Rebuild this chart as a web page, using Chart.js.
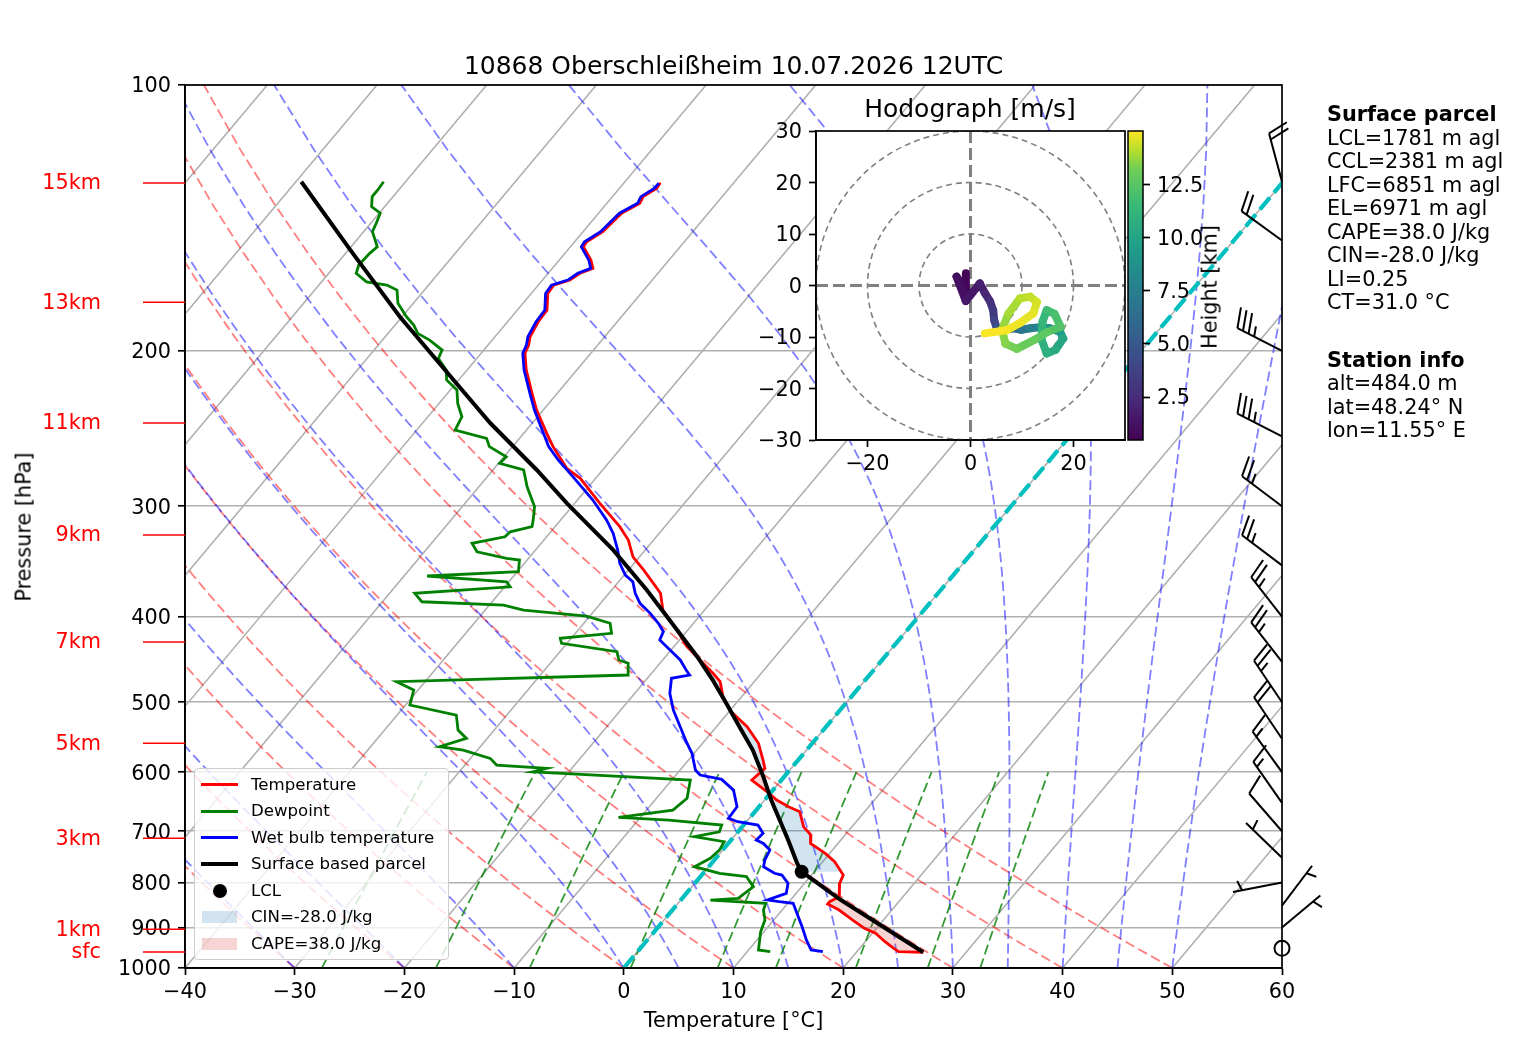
<!DOCTYPE html>
<html>
<head>
<meta charset="utf-8">
<title>Skew-T 10868 Oberschleißheim</title>
<script src="https://cdn.jsdelivr.net/npm/chart.js@4.4.1/dist/chart.umd.min.js"></script>
<style>
  html, body { margin: 0; padding: 0; background: #fff; }
  #page { position: relative; width: 1517px; height: 1054px; overflow: hidden; font-family: 'DejaVu Sans', sans-serif; color: #000; }
  #page canvas { position: absolute; }
  .lbl { position: absolute; white-space: nowrap; line-height: 1; transform: translate(-50%, -50%); }
  .rot { transform: translate(-50%, -50%) rotate(-90deg); }
  .info { position: absolute; left: 1327px; font-size: 20.8px; line-height: 1; white-space: nowrap; }
  #legend { position: absolute; left: 194px; top: 768px; width: 255px; height: 192px; box-sizing: border-box;
            background: rgba(255,255,255,0.8); border: 1px solid #cccccc; border-radius: 4px; }
  .lg { position: absolute; left: 56px; font-size: 16.6px; line-height: 1; white-space: nowrap; transform: translateY(-50%); }
  .lh { position: absolute; }
</style>
</head>
<body>
<div id="page">
  <canvas id="skew" width="1517" height="1054" style="left:0;top:0"></canvas>
  <canvas id="hodo" width="390" height="405" style="left:740px;top:85px"></canvas>
  <canvas id="cbar" width="140" height="370" style="left:1100px;top:100px"></canvas>

  <div class="lbl" style="left:733.5px;top:65px;font-size:25px">10868 Oberschleißheim 10.07.2026 12UTC</div>
  <div class="lbl rot" style="left:24px;top:527px;font-size:20.8px">Pressure [hPa]</div>
  <div class="lbl" style="left:733.5px;top:1020px;font-size:20.8px">Temperature [°C]</div>
  <div class="lbl" style="left:970px;top:108px;font-size:25px">Hodograph [m/s]</div>
  <div class="lbl rot" style="left:1210px;top:287px;font-size:20.8px">Height [km]</div>

  <div id="legend"></div>
  <div id="info"></div>
</div>

<script>
// ---------------- values ----------------
const pressureTicks = [100, 200, 300, 400, 500, 600, 700, 800, 900, 1000];
const tempTicks = [-40, -30, -20, -10, 0, 10, 20, 30, 40, 50, 60];

// temperature profile
const tempP = [129.0,130.9,133.8,136.1,139.7,146.6,150.5,152.5,157.9,161.3,163.4,166.3,168.5,172.2,179.8,185.4,
  192.8,197.0,201.3,210.3,223.4,233.4,248.0,256.8,271.7,278.9,297.7,316.4,327.6,342.2,354.3,366.8,376.4,393.2,
  414.2,432.6,447.9,463.7,474.0,492.9,512.6,533.1,556.6,581.5,594.2,612.6,631.6,645.4,656.8,665.4,692.0,707.1,
  722.6,741.6,758.0,784.7,801.9,830.4,841.3,846.4,859.7,882.5,901.7,913.5,933.7,949.9,958.4,959.9];
const tempT = [-56.7,-56.6,-57.2,-57.0,-57.9,-58.2,-58.9,-58.8,-57.1,-56.3,-57.1,-57.5,-58.6,-58.5,-57.3,-57.2,
  -56.8,-56.3,-56.0,-54.6,-52.3,-50.6,-47.9,-46.3,-43.4,-41.4,-37.7,-34.1,-32.3,-30.6,-28.6,-26.7,-25.3,-23.8,
  -21.0,-18.8,-16.6,-14.4,-13.1,-11.7,-9.8,-7.2,-4.9,-3.2,-2.4,-2.7,-0.4,1.1,2.7,4.1,5.6,6.9,
  7.5,9.6,11.1,12.9,13.2,14.2,13.7,13.7,15.2,17.2,18.9,20.3,21.8,23.1,23.8,26.1];

// dewpoint profile
const dewP = [128.7,131.5,133.8,137.3,139.7,143.4,146.6,152.5,155.1,159.9,163.4,167.1,168.5,170.7,176.7,183.0,
  187.0,191.1,194.5,199.6,204.0,210.3,215.8,221.5,229.4,237.5,245.9,251.3,256.8,263.6,268.2,272.9,285.1,300.3,
  311.0,316.4,320.6,324.8,330.4,337.8,343.6,345.1,355.8,359.8,365.3,370.1,376.4,384.8,388.1,393.2,399.4,407.0,
  417.8,423.2,428.8,438.3,447.9,451.7,465.8,474.0,484.4,503.7,517.1,537.7,549.5,561.6,566.5,578.9,589.1,594.2,
  599.5,612.6,642.5,662.4,675.1,679.9,688.8,701.0,710.1,719.4,735.3,751.2,767.9,781.2,788.1,809.0,834.0,837.6,
  844.9,859.7,882.5,909.7,954.1,958.4];
const dewT = [-82.0,-81.9,-81.9,-81.2,-79.9,-79.5,-79.2,-77.6,-77.8,-77.9,-77.5,-75.9,-73.8,-72.5,-71.4,-69.6,
  -68.3,-67.3,-65.7,-63.8,-63.5,-61.9,-61.1,-59.4,-58.3,-56.9,-56.5,-53.0,-52.1,-49.8,-49.9,-47.2,-45.6,-43.4,
  -42.5,-42.1,-43.7,-43.8,-46.3,-45.2,-42.0,-40.7,-39.9,-47.9,-40.2,-39.5,-47.7,-46.4,-38.7,-36.5,-30.3,-27.6,
  -26.7,-31.0,-30.5,-24.8,-24.0,-22.9,-22.0,-42.6,-40.4,-39.6,-34.6,-33.3,-31.9,-33.7,-31.3,-28.2,-27.1,-22.3,
  -23.3,-8.3,-7.2,-7.6,-12.0,-7.2,-2.0,-1.7,-3.6,-0.5,-0.3,-0.5,-1.3,1.5,4.2,5.6,5.1,2.7,
  8.0,8.3,9.2,9.7,10.9,12.1];

// wet bulb profile
const wetP = [129.2,130.9,133.8,136.1,139.7,146.6,150.5,152.5,157.9,161.3,163.4,166.3,168.5,172.2,179.8,185.4,
  192.8,197.0,201.3,210.3,223.4,233.4,248.0,256.8,265.9,277.7,295.1,311.0,321.9,336.3,348.1,358.9,365.3,376.4,
  386.4,396.6,407.0,416.0,425.1,436.3,447.9,459.7,465.8,469.8,488.6,510.4,533.1,554.3,571.3,596.8,604.6,609.8,
  611.5,628.8,656.8,676.9,682.9,688.8,703.9,716.3,722.6,735.3,754.6,767.9,781.2,784.7,801.9,823.1,837.6,841.3,
  844.9,867.1,898.0,929.5,954.1,958.4];
const wetT = [-56.8,-56.8,-57.4,-57.2,-58.1,-58.4,-59.1,-59.0,-57.3,-56.5,-57.3,-57.7,-58.8,-58.7,-57.5,-57.4,
  -57.0,-56.5,-56.2,-54.8,-52.5,-50.8,-48.2,-46.7,-44.8,-42.2,-38.6,-35.8,-34.2,-32.5,-31.3,-29.9,-28.7,-27.6,
  -26.4,-24.7,-23.2,-22.1,-21.8,-20.1,-18.4,-17.1,-16.4,-17.8,-16.8,-15.2,-13.3,-11.6,-10.2,-8.6,-7.8,-6.0,
  -5.5,-3.6,-2.0,-1.9,-0.8,1.3,2.4,2.3,3.2,4.3,4.6,5.0,6.5,7.3,8.5,9.1,7.9,9.1,
  10.5,11.6,13.1,14.5,15.7,16.9];

// surface based parcel
const parcelP = [128.7,153.8,183.0,213.9,241.6,272.9,297.7,336.3,373.2,417.8,444.1,472.0,501.4,533.1,566.5,
  607.3,645.4,716.3,761.1,777.9,837.6,959.9];
const parcelT = [-89.5,-79.8,-70.2,-61.0,-53.8,-46.0,-40.7,-32.9,-26.8,-20.5,-17.1,-13.9,-10.9,-7.9,-4.9,
  -1.9,0.6,5.2,7.8,8.85,14.6,26.1];
const lclP = 777.9, lclT = 8.85;
const lfcP = 418;

// wind barbs (knots)
const windP   = [128.7, 150, 200, 250, 300, 350, 400, 450, 500, 550, 600, 650, 700, 750, 800, 850, 900, 950];
const windDir = [345, 306, 297, 297, 307, 307, 322, 322, 326, 326, 324, 325, 319, 314, 259, 37, 50, 0];
const windSpd = [20, 20, 35, 35, 25, 25, 25, 25, 25, 20, 15, 15, 10, 5, 5, 5, 5, 0];

// hodograph (m/s) and height (km)
const hodoU = [-0.9,-0.9,-2.7,-0.9,1.8,2.8,3.8,4.4,4.6,5.1,6.7,8.3,9.9,11.6,13.5,15.4,17.4,18.0,16.5,14.8,
  13.8,14.0,14.8,16.3,17.5,15.0,12.5,9.0,6.8,6.1,7.4,9.6,11.6,12.9,12.2,9.6,7.0,2.8];
const hodoV = [2.4,-0.9,1.7,-3.0,0.4,-1.5,-3.1,-4.8,-6.7,-8.3,-8.6,-8.3,-8.6,-8.3,-8.1,-8.3,-9.0,-10.3,-12.5,-13.2,
  -10.5,-7.0,-4.8,-5.5,-8.0,-9.0,-10.5,-12.3,-11.3,-8.6,-5.4,-2.5,-2.2,-3.2,-5.4,-7.3,-8.7,-9.3];
const hodoH = [0.5,0.8,1.0,1.3,1.6,2.0,2.5,3.0,3.6,4.3,5.0,5.8,6.5,7.2,8.0,8.8,9.4,9.9,10.3,10.7,
  11.0,11.3,11.6,11.9,12.2,12.5,12.8,13.1,13.4,13.6,13.8,14.0,14.2,14.4,14.6,14.8,14.9,15.0];
const hMin = 0.48, hMax = 15.0;
const hodoTicksX = [-20, 0, 20];
const hodoTicksY = [-30, -20, -10, 0, 10, 20, 30];
const hodoRings = [10, 20, 30];
const cbarTicks = [2.5, 5, 7.5, 10, 12.5];

// height labels on the left
const kmText = ['15km', '13km', '11km', '9km', '7km', '5km', '3km', '1km', 'sfc'];
const kmP = [129.1, 176.2, 241.4, 323.3, 427.4, 556.6, 713.0, 904.0, 959.1];

// background guide lines
const isothermT = [-110, -100, -90, -80, -70, -60, -50, -40, -30, -20, -10, 0, 10, 20, 30, 40, 50, 60];
const dryAdiabatT0 = [-40, -30, -20, -10, 0, 10, 20, 30, 40, 50];
const moistAdiabatT0 = [-40, -30, -20, -10, 0, 5, 10, 15, 20, 25, 30, 35, 40, 45, 50];
const mixingRatios = [0.0004, 0.001, 0.002, 0.004, 0.007, 0.01, 0.016, 0.024, 0.032];

const legendItems = [
  { label: 'Temperature', kind: 'line', color: '#ff0000' },
  { label: 'Dewpoint', kind: 'line', color: '#008000' },
  { label: 'Wet bulb temperature', kind: 'line', color: '#0000ff' },
  { label: 'Surface based parcel', kind: 'line', color: '#000000' },
  { label: 'LCL', kind: 'dot', color: '#000000' },
  { label: 'CIN=-28.0 J/kg', kind: 'patch', color: 'rgba(31,119,180,0.2)' },
  { label: 'CAPE=38.0 J/kg', kind: 'patch', color: 'rgba(214,39,40,0.2)' }
];
const infoLines = [
  { text: 'Surface parcel', bold: true, y: 114 },
  { text: 'LCL=1781 m agl', y: 138 },
  { text: 'CCL=2381 m agl', y: 161.5 },
  { text: 'LFC=6851 m agl', y: 185 },
  { text: 'EL=6971 m agl', y: 208.5 },
  { text: 'CAPE=38.0 J/kg', y: 232 },
  { text: 'CIN=-28.0 J/kg', y: 255.5 },
  { text: 'LI=0.25', y: 279 },
  { text: 'CT=31.0 °C', y: 302.5 },
  { text: 'Station info', bold: true, y: 360 },
  { text: 'alt=484.0 m', y: 383.5 },
  { text: 'lat=48.24° N', y: 407 },
  { text: 'lon=11.55° E', y: 430.5 }
];

// ---------------- helpers ----------------
Chart.defaults.font.family = "'DejaVu Sans', sans-serif";
Chart.defaults.color = '#000';

const FS = 20.8;
const SKEW = 67.5;      // degC shift per decade of pressure
const skew = (t, p) => t + SKEW * Math.log10(1000 / p);
const toPts = (P, T) => P.map((p, i) => ({ x: skew(T[i], p), y: p }));
const minus = v => (v < 0 ? '\u2212' + Math.abs(v) : String(v));

const Rd = 287.04749, Cpd = 1004.67, Lv = 2.50084e6, EPS = 0.62196;
const satVap = tc => 6.112 * Math.exp(17.67 * tc / (tc + 243.5));

const guideP = [];
for (let i = 0; i < 50; i++) guideP.push(1000 - i * 900 / 49);
const mixP = [];
for (let i = 0; i < 50; i++) mixP.push(1000 - i * 400 / 49);

function dryLine(t0) {
  return guideP.map(p => ({ x: skew((t0 + 273.15) * Math.pow(p / 1000, Rd / Cpd) - 273.15, p), y: p }));
}
function dTdp(p, tk) {
  const es = satVap(tk - 273.15);
  const rs = EPS * es / (p - es);
  return (Rd * tk + Lv * rs) / (p * (Cpd + Lv * Lv * rs * EPS / (Rd * tk * tk)));
}
function moistLine(t0) {
  let tk = t0 + 273.15, p = guideP[0];
  const pts = [{ x: skew(t0, p), y: p }];
  for (let i = 1; i < guideP.length; i++) {
    const n = 10, dp = (guideP[i] - p) / n;
    for (let k = 0; k < n; k++) {
      const k1 = dTdp(p, tk);
      const k2 = dTdp(p + dp / 2, tk + dp / 2 * k1);
      const k3 = dTdp(p + dp / 2, tk + dp / 2 * k2);
      const k4 = dTdp(p + dp, tk + dp * k3);
      tk += dp / 6 * (k1 + 2 * k2 + 2 * k3 + k4);
      p += dp;
    }
    pts.push({ x: skew(tk - 273.15, guideP[i]), y: guideP[i] });
  }
  return pts;
}
function mixingLine(w) {
  return mixP.map(p => {
    const l = Math.log(p * w / (EPS + w) / 6.112);
    return { x: skew(243.5 * l / (17.67 - l), p), y: p };
  });
}

function interpLogP(P, T, p) {
  if (p <= P[0]) return T[0];
  if (p >= P[P.length - 1]) return T[T.length - 1];
  for (let i = 1; i < P.length; i++) {
    if (p <= P[i]) {
      const f = Math.log(p / P[i - 1]) / Math.log(P[i] / P[i - 1]);
      return T[i - 1] + f * (T[i] - T[i - 1]);
    }
  }
}
// closed shape between parcel and environment, env side chosen by pick()
function shadeShape(pLow, pHigh, pick) {
  const levels = [...new Set([pLow, pHigh, ...tempP, ...parcelP])]
    .filter(p => p >= pLow && p <= pHigh).sort((a, b) => a - b);
  const side1 = levels.map(p => ({ x: skew(interpLogP(parcelP, parcelT, p), p), y: p }));
  const side2 = levels.map(p => {
    const te = interpLogP(tempP, tempT, p), tp = interpLogP(parcelP, parcelT, p);
    return { x: skew(pick(te, tp), p), y: p };
  }).reverse();
  return side1.concat(side2, [side1[0]]);
}

const viridisStops = [
  [68, 1, 84], [72, 40, 120], [62, 73, 137], [49, 104, 142], [38, 130, 142],
  [31, 158, 137], [53, 183, 121], [110, 206, 88], [181, 222, 43], [253, 231, 37]
];
const viridisPos = [0, 0.125, 0.25, 0.375, 0.5, 0.625, 0.75, 0.875, 0.9375, 1];
function viridis(t) {
  t = Math.max(0, Math.min(1, t));
  let i = 1;
  while (i < viridisPos.length - 1 && t > viridisPos[i]) i++;
  const f = (t - viridisPos[i - 1]) / (viridisPos[i] - viridisPos[i - 1]);
  const a = viridisStops[i - 1], b = viridisStops[i];
  return `rgb(${Math.round(a[0] + f * (b[0] - a[0]))},${Math.round(a[1] + f * (b[1] - a[1]))},${Math.round(a[2] + f * (b[2] - a[2]))})`;
}

function lineDs(data, color, width, dash, order) {
  return { data, showLine: true, borderColor: color, borderWidth: width, borderDash: dash || [],
           pointRadius: 0, fill: false, order };
}

// matplotlib style barb, staff pointing where the wind comes from
function drawBarb(ctx, x0, y0, dirDeg, spd) {
  const L = 50, h = 0.4 * L, w = 0.25 * L, sp = 0.125 * L;
  if (spd < 2.5) {
    ctx.beginPath();
    ctx.arc(x0, y0, 0.15 * L, 0, Math.PI * 2);
    ctx.stroke();
    return;
  }
  const r = dirDeg * Math.PI / 180;
  const sx = Math.sin(r), sy = -Math.cos(r);
  const px = Math.cos(r), py = Math.sin(r);
  const v = Math.round(spd / 5) * 5;
  const nFlag = Math.floor(v / 50), nBarb = Math.floor((v % 50) / 10), half = v % 10 >= 5;
  ctx.beginPath();
  ctx.moveTo(x0, y0);
  ctx.lineTo(x0 + sx * L, y0 + sy * L);
  ctx.stroke();
  let off = L;
  for (let i = 0; i < nFlag; i++) {
    const bx = x0 + sx * off, by = y0 + sy * off;
    ctx.beginPath();
    ctx.moveTo(bx, by);
    ctx.lineTo(bx + px * h - sx * w / 2, by + py * h - sy * w / 2);
    ctx.lineTo(bx - sx * w, by - sy * w);
    ctx.closePath();
    ctx.fill();
    off -= w + sp;
  }
  for (let i = 0; i < nBarb; i++) {
    const bx = x0 + sx * off, by = y0 + sy * off;
    ctx.beginPath();
    ctx.moveTo(bx, by);
    ctx.lineTo(bx + px * h + sx * w / 2, by + py * h + sy * w / 2);
    ctx.stroke();
    off -= sp;
  }
  if (half) {
    if (off === L) off -= 1.5 * sp;
    const bx = x0 + sx * off, by = y0 + sy * off;
    ctx.beginPath();
    ctx.moveTo(bx, by);
    ctx.lineTo(bx + px * h / 2 + sx * w / 4, by + py * h / 2 + sy * w / 4);
    ctx.stroke();
  }
}

// ---------------- skew-T ----------------
const datasets = [];
isothermT.forEach(t => datasets.push(lineDs([{ x: skew(t, 1000), y: 1000 }, { x: skew(t, 100), y: 100 }], '#b0b0b0', 1.6, [], 40)));
dryAdiabatT0.forEach(t => datasets.push(lineDs(dryLine(t), 'rgba(255,0,0,0.5)', 1.8, [10, 4.5], 35)));
moistAdiabatT0.forEach(t => datasets.push(lineDs(moistLine(t), 'rgba(0,0,255,0.5)', 1.8, [10, 4.5], 34)));
mixingRatios.forEach(w => datasets.push(lineDs(mixingLine(w), 'rgba(0,128,0,0.8)', 1.8, [10, 4.5], 33)));
datasets.push({ data: shadeShape(parcelP[0], tempP[tempP.length - 1], (te, tp) => Math.min(te, tp)),
  showLine: true, fill: 'shape', backgroundColor: 'rgba(214,39,40,0.2)', borderColor: 'rgba(0,0,0,0)',
  borderWidth: 1, pointRadius: 0, order: 31 });
datasets.push({ data: shadeShape(lfcP, lclP, (te, tp) => Math.max(te, tp)),
  showLine: true, fill: 'shape', backgroundColor: 'rgba(31,119,180,0.2)', borderColor: 'rgba(0,0,0,0)',
  borderWidth: 1, pointRadius: 0, order: 30 });
datasets.push(lineDs([{ x: skew(0, 1000), y: 1000 }, { x: skew(0, 100), y: 100 }], '#00bfbf', 4.2, [15.5, 6.5], 20));
datasets.push(lineDs(toPts(tempP, tempT), '#ff0000', 2.8, [], 5));
datasets.push(lineDs(toPts(dewP, dewT), '#008000', 2.8, [], 4));
datasets.push(lineDs(toPts(wetP, wetT), '#0000ff', 2.8, [], 3));
datasets.push(lineDs(toPts(parcelP, parcelT), '#000000', 4, [], 2));
datasets.push({ data: [{ x: skew(lclT, lclP), y: lclP }], showLine: false, pointRadius: 7,
  pointBackgroundColor: '#000', pointBorderColor: '#000', pointBorderWidth: 0, order: 1 });

const skewDecor = {
  id: 'skewDecor',
  afterDraw(chart) {
    const { ctx, chartArea: a, scales: { y } } = chart;
    ctx.save();
    ctx.strokeStyle = '#000';
    ctx.lineWidth = 1.7;
    ctx.strokeRect(a.left, a.top, a.right - a.left, a.bottom - a.top);
    // height labels
    ctx.font = `${FS}px 'DejaVu Sans', sans-serif`;
    ctx.fillStyle = '#ff0000';
    ctx.strokeStyle = '#ff0000';
    ctx.lineWidth = 1.5;
    ctx.textAlign = 'right';
    ctx.textBaseline = 'middle';
    kmP.forEach((p, i) => {
      const yy = y.getPixelForValue(p);
      ctx.beginPath();
      ctx.moveTo(a.left - 42, yy);
      ctx.lineTo(a.left, yy);
      ctx.stroke();
      ctx.fillText(kmText[i], a.left - 84, yy + 1);
    });
    // wind barbs along the right edge
    ctx.strokeStyle = '#000';
    ctx.fillStyle = '#000';
    ctx.lineWidth = 2;
    ctx.lineCap = 'butt';
    windP.forEach((p, i) => drawBarb(ctx, a.right, y.getPixelForValue(p), windDir[i], windSpd[i]));
    ctx.restore();
  }
};

new Chart(document.getElementById('skew'), {
  type: 'scatter',
  data: { datasets },
  options: {
    responsive: false, animation: false, events: [],
    layout: { padding: { left: 0, right: 235, top: 85, bottom: 0 } },
    elements: { point: { radius: 0 }, line: { tension: 0 } },
    plugins: { legend: { display: false }, tooltip: { enabled: false }, title: { display: false } },
    scales: {
      x: {
        type: 'linear', min: -40, max: 60,
        afterBuildTicks: s => { s.ticks = tempTicks.map(v => ({ value: v })); },
        afterFit: s => { s.height = 86; },
        grid: { drawOnChartArea: false, drawTicks: true, tickLength: 7, tickColor: '#000', tickWidth: 1.7 },
        border: { display: true, color: '#000', width: 1.7 },
        ticks: { font: { size: FS }, color: '#000', padding: 5, maxRotation: 0, autoSkip: false, callback: v => minus(v) }
      },
      y: {
        type: 'logarithmic', reverse: true, min: 100, max: 1000,
        afterBuildTicks: s => { s.ticks = pressureTicks.map(v => ({ value: v })); },
        afterFit: s => { s.width = 185; },
        grid: { color: '#b0b0b0', lineWidth: 1.6, drawTicks: true, tickLength: 7, tickColor: '#000', tickWidth: 1.7 },
        border: { display: true, color: '#000', width: 1.7 },
        ticks: { font: { size: FS }, color: '#000', padding: 7, labelOffset: 2, autoSkip: false, callback: v => String(v) }
      }
    }
  },
  plugins: [skewDecor]
});

// ---------------- hodograph inset ----------------
const hodoDecor = {
  id: 'hodoDecor',
  beforeDraw(chart) {
    const { ctx, chartArea: a } = chart;
    ctx.save();
    ctx.fillStyle = '#fff';
    ctx.fillRect(a.left, a.top, a.right - a.left, a.bottom - a.top);
    ctx.restore();
  },
  beforeDatasetsDraw(chart) {
    const { ctx, chartArea: a, scales: { x, y } } = chart;
    const cx = x.getPixelForValue(0), cy = y.getPixelForValue(0);
    ctx.save();
    ctx.beginPath();
    ctx.rect(a.left, a.top, a.right - a.left, a.bottom - a.top);
    ctx.clip();
    ctx.strokeStyle = '#808080';
    ctx.lineWidth = 1.6;
    ctx.setLineDash([6, 4]);
    hodoRings.forEach(r => {
      ctx.beginPath();
      ctx.arc(cx, cy, x.getPixelForValue(r) - cx, 0, Math.PI * 2);
      ctx.stroke();
    });
    ctx.lineWidth = 3;
    ctx.setLineDash([12, 5]);
    ctx.beginPath();
    ctx.moveTo(a.left, cy); ctx.lineTo(a.right, cy);
    ctx.moveTo(cx, a.top); ctx.lineTo(cx, a.bottom);
    ctx.stroke();
    ctx.restore();
  },
  afterDraw(chart) {
    const { ctx, chartArea: a } = chart;
    ctx.save();
    ctx.strokeStyle = '#000';
    ctx.lineWidth = 1.7;
    ctx.strokeRect(a.left, a.top, a.right - a.left, a.bottom - a.top);
    ctx.restore();
  }
};

new Chart(document.getElementById('hodo'), {
  type: 'scatter',
  data: {
    datasets: [{
      data: hodoU.map((u, i) => ({ x: u, y: hodoV[i] })),
      showLine: true, pointRadius: 0, borderWidth: 8,
      borderCapStyle: 'round', borderJoinStyle: 'round',
      borderColor: viridis(0),
      segment: {
        borderColor: c => viridis(((hodoH[c.p0DataIndex] + hodoH[c.p1DataIndex]) / 2 - hMin) / (hMax - hMin))
      }
    }]
  },
  options: {
    responsive: false, animation: false, events: [],
    layout: { padding: { left: 0, right: 5, top: 46, bottom: 0 } },
    plugins: { legend: { display: false }, tooltip: { enabled: false } },
    scales: {
      x: {
        type: 'linear', min: -30, max: 30,
        afterBuildTicks: s => { s.ticks = hodoTicksX.map(v => ({ value: v })); },
        afterFit: s => { s.height = 50; },
        grid: { drawOnChartArea: false, tickLength: 7, tickColor: '#000', tickWidth: 1.7 },
        border: { display: true, color: '#000', width: 1.7 },
        ticks: { font: { size: FS }, color: '#000', padding: 5, maxRotation: 0, autoSkip: false, callback: v => minus(v) }
      },
      y: {
        type: 'linear', min: -30, max: 30,
        afterBuildTicks: s => { s.ticks = hodoTicksY.map(v => ({ value: v })); },
        afterFit: s => { s.width = 76; },
        grid: { drawOnChartArea: false, tickLength: 7, tickColor: '#000', tickWidth: 1.7 },
        border: { display: true, color: '#000', width: 1.7 },
        ticks: { font: { size: FS }, color: '#000', padding: 7, labelOffset: 2, autoSkip: false, callback: v => minus(v) }
      }
    }
  },
  plugins: [hodoDecor]
});

// ---------------- colorbar ----------------
const cbarDecor = {
  id: 'cbarDecor',
  beforeDatasetsDraw(chart) {
    const { ctx, chartArea: a } = chart;
    const g = ctx.createLinearGradient(0, a.bottom, 0, a.top);
    for (let i = 0; i <= 40; i++) g.addColorStop(i / 40, viridis(i / 40));
    ctx.save();
    ctx.fillStyle = g;
    ctx.fillRect(a.left, a.top, a.right - a.left, a.bottom - a.top);
    ctx.strokeStyle = '#000';
    ctx.lineWidth = 1.5;
    ctx.strokeRect(a.left, a.top, a.right - a.left, a.bottom - a.top);
    ctx.restore();
  }
};

new Chart(document.getElementById('cbar'), {
  type: 'scatter',
  data: { datasets: [] },
  options: {
    responsive: false, animation: false, events: [],
    layout: { padding: { left: 28, right: 0, top: 31, bottom: 30 } },
    plugins: { legend: { display: false }, tooltip: { enabled: false } },
    scales: {
      x: { display: false, min: 0, max: 1 },
      y: {
        position: 'right', min: hMin, max: hMax,
        afterBuildTicks: s => { s.ticks = cbarTicks.map(v => ({ value: v })); },
        afterFit: s => { s.width = 97; },
        grid: { drawOnChartArea: false, tickLength: 7, tickColor: '#000', tickWidth: 1.7 },
        border: { display: false },
        ticks: { font: { size: FS }, color: '#000', padding: 7, labelOffset: 2, autoSkip: false, callback: v => v.toFixed(1) }
      }
    }
  },
  plugins: [cbarDecor]
});

// ---------------- legend and info text ----------------
const legend = document.getElementById('legend');
legendItems.forEach((it, i) => {
  const yc = 15.5 + i * 26.5;
  const h = document.createElement('div');
  h.className = 'lh';
  if (it.kind === 'line') {
    const lw = it.color === '#000000' ? 4 : 3;
    Object.assign(h.style, { left: '6px', width: '37px', top: (yc - lw / 2) + 'px', height: lw + 'px', background: it.color });
  } else if (it.kind === 'dot') {
    Object.assign(h.style, { left: '17.5px', width: '14px', height: '14px', top: (yc - 7) + 'px', background: it.color, borderRadius: '50%' });
  } else {
    Object.assign(h.style, { left: '7px', width: '35px', height: '12px', top: (yc - 6) + 'px', background: it.color });
  }
  legend.appendChild(h);
  const t = document.createElement('div');
  t.className = 'lg';
  t.style.top = yc + 'px';
  t.textContent = it.label;
  legend.appendChild(t);
});

const info = document.getElementById('info');
infoLines.forEach(l => {
  const d = document.createElement('div');
  d.className = 'info';
  d.style.top = (l.y - FS / 2) + 'px';
  if (l.bold) d.style.fontWeight = 'bold';
  d.textContent = l.text;
  info.appendChild(d);
});
</script>
</body>
</html>
